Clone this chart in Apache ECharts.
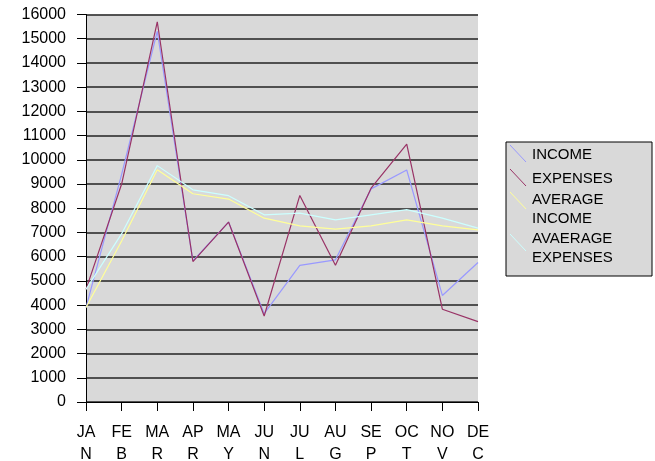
<!DOCTYPE html>
<html>
<head>
<meta charset="utf-8">
<script src="https://cdn.jsdelivr.net/npm/echarts@6/dist/echarts.min.js"></script>
<style>
html,body{margin:0;padding:0;background:#fff;}
#chart{width:655px;height:461px;}
</style>
</head>
<body>
<div id="chart"></div>
<script>
var months = ['JAN','FEB','MAR','APR','MAY','JUN','JUL','AUG','SEP','OCT','NOV','DEC'];
var income = [3900, 9400, 15300, 5830, 7430, 3650, 5640, 5870, 8800, 9580, 4400, 5760];
var expenses = [4650, 9000, 15700, 5800, 7430, 3550, 8530, 5650, 8830, 10650, 3830, 3320];
var averageIncome = [3900, 6650, 9590, 8600, 8380, 7590, 7270, 7140, 7270, 7520, 7270, 7110];
var averageExpenses = [4650, 6950, 9760, 8760, 8520, 7730, 7800, 7520, 7730, 7940, 7590, 7180];
var seriesNames = ['INCOME', 'EXPENSES', 'AVERAGE INCOME', 'AVAERAGE EXPENSES'];
var legendLines = [['INCOME'], ['EXPENSES'], ['AVERAGE', 'INCOME'], ['AVAERAGE', 'EXPENSES']];
var colors = ['#9999FF', '#993366', '#FFFF99', '#CCFFFF'];

var FONT = "'Liberation Sans', Arial, sans-serif";
var chart = echarts.init(document.getElementById('chart'), null, {renderer: 'canvas'});

function mkSeries(name, data, color) {
  return {
    name: name, type: 'line', data: data, symbol: 'none',
    lineStyle: {color: color, width: 1.2}, itemStyle: {color: color},
    animation: false
  };
}

var lg = [];
lg.push({type: 'rect', shape: {x: 506, y: 142, width: 146, height: 134},
  style: {fill: '#d9d9d9', stroke: '#000', lineWidth: 1}});
var iconTops = [145, 169, 192, 234];
var lineCenters = [[155], [179], [200, 219], [239, 258]];
for (var i = 0; i < 4; i++) {
  lg.push({type: 'line', shape: {x1: 510, y1: iconTops[i], x2: 526, y2: iconTops[i] + 17},
    style: {stroke: colors[i], lineWidth: 1}});
  for (var j = 0; j < legendLines[i].length; j++) {
    lg.push({type: 'text', x: 532, y: lineCenters[i][j],
      style: {text: legendLines[i][j], font: '15px ' + FONT, fill: '#000',
        textVerticalAlign: 'middle', verticalAlign: 'middle'}});
  }
}

chart.setOption({
  animation: false,
  grid: {left: 86, right: 177, top: 14.5, bottom: 59, show: true,
    backgroundColor: '#d9d9d9', borderWidth: 0,
    containLabel: false, outerBoundsMode: 'none'},
  xAxis: {
    type: 'category', data: months, boundaryGap: false,
    axisLine: {show: true, lineStyle: {color: '#000', width: 1}},
    axisTick: {show: true, length: 9, alignWithLabel: true, lineStyle: {color: '#000'}},
    axisLabel: {
      color: '#000', fontFamily: FONT, fontSize: 16, lineHeight: 22, margin: 20,
      interval: 0,
      formatter: function (v) { return v.slice(0, 2) + '\n' + v.slice(2); }
    },
    splitLine: {show: false}
  },
  yAxis: {
    type: 'value', min: 0, max: 16000, interval: 1000,
    axisLine: {show: true, lineStyle: {color: '#000', width: 1}},
    axisTick: {show: true, length: 9, lineStyle: {color: '#000'}},
    axisLabel: {color: '#000', fontFamily: FONT, fontSize: 16, margin: 20,
      formatter: function (v) { return String(v); }},
    splitLine: {show: true, lineStyle: {color: '#222', width: 1.6}}
  },
  series: [
    mkSeries(seriesNames[0], income, colors[0]),
    mkSeries(seriesNames[1], expenses, colors[1]),
    mkSeries(seriesNames[2], averageIncome, colors[2]),
    mkSeries(seriesNames[3], averageExpenses, colors[3])
  ],
  graphic: lg
});
</script>
</body>
</html>
